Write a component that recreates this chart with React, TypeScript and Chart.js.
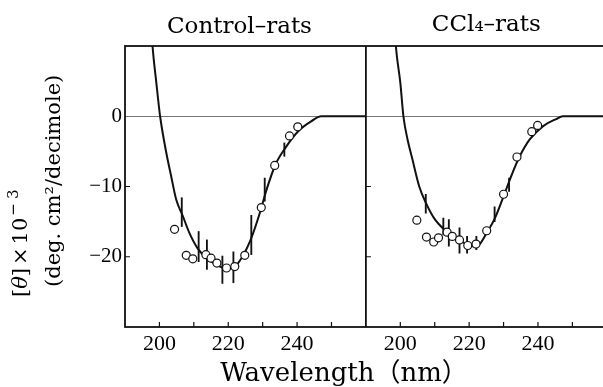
import React, { useEffect, useRef } from 'react';
import { Chart, registerables } from 'chart.js';

Chart.register(...registerables);

// ---- Data ----
const panelTitles = ['Control–rats', 'CCl₄–rats'];
const xTickLabels = [200, 220, 240];
const xMinorTicks = [200, 210, 220, 230, 240, 250];
const yTickLabels = [0, -10, -20];
const yMinorTicks = [-10, -20];

// Control-rats
const controlCurveX = [197.5, 198.0, 199.1, 200.2, 202.0, 203.4, 204.9, 206.8, 208.7, 211.1, 213.5, 216.4, 219.5, 221.7, 224.1, 226.5, 228.9, 231.3, 233.7, 236.6, 240.4, 244.2, 247.0, 260];
const controlCurveY = [14, 10, 4.8, 0, -5.2, -8.5, -11.9, -14.2, -16.6, -18.8, -20.1, -21.1, -21.7, -21.5, -20.0, -17.6, -14.2, -10.2, -6.9, -4.5, -2.1, -0.7, 0, 0];
const controlPointX = [204.4, 207.8, 209.7, 213.5, 215.0, 216.7, 219.5, 221.9, 224.8, 229.6, 233.5, 237.8, 240.2];
const controlPointY = [-16.1, -19.8, -20.3, -19.7, -20.2, -20.9, -21.6, -21.4, -19.8, -13.0, -7.0, -2.8, -1.5];
const controlBarX = [206.5, 211.4, 213.8, 218.3, 221.5, 226.7, 230.6, 236.3];
const controlBarLow = [-15.7, -20.7, -21.8, -23.8, -23.7, -19.7, -12.1, -5.7];
const controlBarHigh = [-11.6, -16.4, -17.6, -19.9, -19.3, -14.1, -8.8, -3.8];

// CCl4-rats
const cclCurveX = [198.2, 198.7, 200.0, 200.9, 202.1, 203.5, 205.5, 207.4, 209.8, 212.7, 215.6, 218.4, 220.8, 222.8, 225.1, 227.5, 230.0, 232.4, 234.7, 237.6, 241.5, 245.3, 247.2, 260];
const cclCurveY = [14, 10, 4.8, 0, -3.3, -6.1, -10.0, -12.3, -14.5, -16.1, -17.2, -18.0, -18.5, -18.3, -16.6, -14.5, -11.4, -8.3, -5.7, -3.3, -1.4, -0.4, 0, 0];
const cclPointX = [204.8, 207.6, 209.7, 211.1, 213.6, 215.1, 217.2, 219.6, 222.0, 225.1, 230.0, 233.9, 238.2, 239.9];
const cclPointY = [-14.8, -17.2, -17.9, -17.3, -16.5, -17.1, -17.6, -18.4, -18.2, -16.3, -11.1, -5.8, -2.2, -1.3];
const cclBarX = [207.4, 212.5, 214.1, 217.2, 219.4, 222.1, 227.4, 231.6];
const cclBarLow = [-13.8, -16.9, -18.5, -19.5, -19.5, -19.0, -15.0, -10.7];
const cclBarHigh = [-11.1, -14.5, -14.7, -15.9, -17.1, -17.1, -12.9, -8.8];

// y title line 1 pieces: "[θ]×10⁻³", line 2 "(deg. cm²/decimole)"
const yTitle1Parts = ['[', 'θ', ']', '×', '10', '−', '3'];
const yTitle2 = '(deg. cm²/decimole)';
const xTitle = 'Wavelength（nm）';

const INK = '#111';
const TEXT_FONT = '"DejaVu Serif", "Noto Sans CJK JP", serif';
const NUM_FONT = '"Liberation Serif", serif';

function pts(xs: number[], ys: number[]) {
  return xs.map((x, i) => ({ x, y: ys[i] }));
}
function bars(xs: number[], lo: number[], hi: number[]) {
  return xs.map((x, i) => ({ x, y: [lo[i], hi[i]] }));
}

function panelDatasets(axis: string, cx: number[], cy: number[], px: number[], py: number[], bx: number[], bl: number[], bh: number[]) {
  return [
    {
      type: 'line',
      xAxisID: axis,
      yAxisID: 'y',
      data: pts(cx, cy),
      borderColor: INK,
      borderWidth: 2,
      pointRadius: 0,
      cubicInterpolationMode: 'monotone',
      fill: false,
      order: 2,
    },
    {
      type: 'bar',
      xAxisID: axis,
      yAxisID: 'y',
      data: bars(bx, bl, bh),
      backgroundColor: INK,
      borderWidth: 0,
      barThickness: 1.2,
      grouped: false,
      order: 1,
    },
    {
      type: 'scatter',
      xAxisID: axis,
      yAxisID: 'y',
      data: pts(px, py),
      pointRadius: 4,
      pointBackgroundColor: '#fff',
      pointBorderColor: INK,
      pointBorderWidth: 1.2,
      showLine: false,
      order: 0,
    },
  ];
}

const xScale = () => ({
  type: 'linear',
  position: 'bottom',
  stack: 'panels',
  stackWeight: 1,
  offset: false,
  min: 190,
  max: 260,
  grid: { display: false, drawTicks: false, offset: false },
  border: { display: false },
  ticks: {
    stepSize: 10,
    autoSkip: false,
    maxRotation: 0,
    padding: 4,
    color: '#000',
    font: { family: NUM_FONT, size: 22 },
    callback: (v: number) => (xTickLabels.includes(v) ? String(v) : ''),
  },
  afterFit: (s: any) => {
    s.height = 30;
  },
});

const framePlugin = {
  id: 'frame',
  afterDraw(chart: any) {
    const { ctx, chartArea: a, scales } = chart;
    const x1 = scales.x1;
    const x2 = scales.x2;
    const y = scales.y;
    ctx.save();
    ctx.strokeStyle = INK;
    ctx.lineWidth = 1.8;
    ctx.strokeRect(a.left, a.top, a.right - a.left, a.bottom - a.top);
    ctx.beginPath();
    ctx.moveTo(x1.right, a.top);
    ctx.lineTo(x1.right, a.bottom);
    ctx.stroke();

    // inward tick marks
    ctx.lineWidth = 1.2;
    ctx.beginPath();
    for (const s of [x1, x2]) {
      for (const v of xMinorTicks) {
        const px = s.getPixelForValue(v);
        ctx.moveTo(px, a.bottom);
        ctx.lineTo(px, a.bottom - 5);
      }
    }
    for (const left of [a.left, x1.right]) {
      for (const v of yMinorTicks) {
        const py = y.getPixelForValue(v);
        ctx.moveTo(left, py);
        ctx.lineTo(left + 5, py);
      }
    }
    ctx.stroke();

    // panel titles
    ctx.fillStyle = '#000';
    ctx.textAlign = 'center';
    ctx.textBaseline = 'alphabetic';
    ctx.font = `23px ${TEXT_FONT}`;
    ctx.fillText(panelTitles[0], (x1.left + x1.right) / 2 - 6, 33);
    ctx.fillText(panelTitles[1], (x2.left + x2.right) / 2, 31);

    // x title
    ctx.font = `26px ${TEXT_FONT}`;
    ctx.fillText(xTitle, 344, 381);

    // y title (rotated)
    ctx.textAlign = 'left';
    ctx.save();
    ctx.translate(27, 297);
    ctx.rotate(-Math.PI / 2);
    const big = `21px ${TEXT_FONT}`;
    const ital = `italic 21px ${TEXT_FONT}`;
    const sup = `15px ${TEXT_FONT}`;
    const styles = [big, ital, big, big, big, sup, sup];
    const gaps = [0, 0, 0, 3, 3, 2, 4];
    const raise = [0, 0, 0, 0, 0, -9, -9];
    let cx = 0;
    yTitle1Parts.forEach((t, i) => {
      cx += gaps[i];
      ctx.font = styles[i];
      ctx.fillText(t, cx, raise[i]);
      cx += ctx.measureText(t).width;
    });
    ctx.restore();
    ctx.save();
    ctx.font = `21px ${TEXT_FONT}`;
    ctx.translate(60, 287);
    ctx.rotate(-Math.PI / 2);
    ctx.fillText(yTitle2, 0, 0);
    ctx.restore();

    ctx.restore();
  },
};

export default function App() {
  const ref = useRef<HTMLCanvasElement>(null);
  useEffect(() => {
    document.body.style.margin = '0';
    const canvas = ref.current;
    if (!canvas) return;
    const chart = new Chart(canvas, {
      type: 'scatter',
      data: {
        datasets: [
          ...panelDatasets('x1', controlCurveX, controlCurveY, controlPointX, controlPointY, controlBarX, controlBarLow, controlBarHigh),
          ...panelDatasets('x2', cclCurveX, cclCurveY, cclPointX, cclPointY, cclBarX, cclBarLow, cclBarHigh),
        ] as any,
      },
      options: {
        animation: false,
        responsive: false,
        devicePixelRatio: 1,
        layout: { padding: { left: 85, top: 46, right: 1, bottom: 30 } },
        plugins: {
          legend: { display: false },
          tooltip: { enabled: false },
          title: { display: false },
        },
        scales: {
          x1: xScale(),
          x2: xScale(),
          y: {
            type: 'linear',
            position: 'left',
            min: -30,
            max: 10,
            grid: {
              display: true,
              drawTicks: false,
              lineWidth: 1,
              color: (c: any) => (c.tick && c.tick.value === 0 ? '#777' : 'rgba(0,0,0,0)'),
            },
            border: { display: false },
            ticks: {
              stepSize: 10,
              padding: 3,
              color: '#000',
              font: { family: NUM_FONT, size: 21 },
              callback: (v: number) => (yTickLabels.includes(v) ? (v === 0 ? '0' : '−' + Math.abs(v)) : ''),
            },
            afterFit: (s: any) => {
              s.width = 40;
            },
          },
        } as any,
      },
      plugins: [framePlugin],
    });
    return () => chart.destroy();
  }, []);
  return (
    <div style={{ width: 603, height: 387, overflow: 'hidden', position: 'relative', background: '#fff' }}>
      <canvas ref={ref} width={612} height={387} style={{ display: 'block' }} />
    </div>
  );
}
